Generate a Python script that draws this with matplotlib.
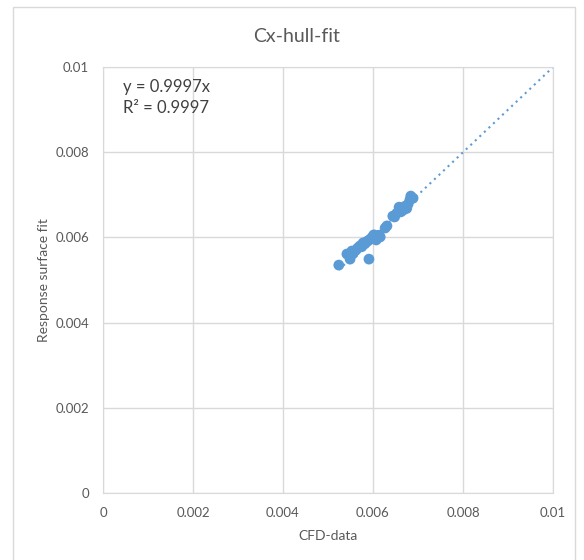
import matplotlib.pyplot as plt
import numpy as np
from matplotlib.patches import Rectangle

# ============================================================
# DATA
# ============================================================

cfd_data = [0.00524, 0.00542, 0.00549, 0.00553, 0.00556, 0.00562, 0.00566,
            0.00571, 0.00575, 0.00578, 0.00582, 0.00586, 0.00589, 0.00591,
            0.00594, 0.00598, 0.00600, 0.00602, 0.00605, 0.00607, 0.00612,
            0.00616, 0.00627, 0.00631, 0.00644, 0.00648, 0.00653, 0.00658,
            0.00662, 0.00667, 0.00671, 0.00675, 0.00678, 0.00682, 0.00684,
            0.00689]
surface_fit = [0.00535, 0.00561, 0.00549, 0.00568, 0.00562, 0.00570, 0.00575,
               0.00580, 0.00578, 0.00587, 0.00585, 0.00590, 0.00592, 0.00549,
               0.00596, 0.00599, 0.00603, 0.00606, 0.00600, 0.00594, 0.00605,
               0.00601, 0.00622, 0.00627, 0.00650, 0.00648, 0.00657, 0.00671,
               0.00660, 0.00664, 0.00673, 0.00668, 0.00678, 0.00688, 0.00697,
               0.00692]

slope = 0.9997
r_squared = 0.9997

x_ticks = [0, 0.002, 0.004, 0.006, 0.008, 0.01]
x_tick_labels = ["0", "0.002", "0.004", "0.006", "0.008", "0.01"]
y_ticks = [0, 0.002, 0.004, 0.006, 0.008, 0.01]
y_tick_labels = ["0", "0.002", "0.004", "0.006", "0.008", "0.01"]

# ============================================================
# PLOT
# ============================================================

plt.rcParams["font.family"] = ["Lato", "DejaVu Sans"]

BLUE = "#5B9BD5"
GRID = "#D9D9D9"
TEXT = "#595959"

fig = plt.figure(figsize=(5.84, 5.60), dpi=100)

# chart area border
fig.patches.append(Rectangle(
    (13 / 584, -0.01), 562 / 584, 1 - 7 / 560 + 0.01,
    transform=fig.transFigure, fill=False, edgecolor=GRID, linewidth=1
))

ax = fig.add_axes([103 / 584, 1 - 493 / 560, 450 / 584, 426 / 560])

ax.scatter(
    cfd_data,
    surface_fit,
    s=60,
    color=BLUE,
    edgecolors="none",
    zorder=3
)

x_line = np.array([min(cfd_data), 0.01])
ax.plot(
    x_line,
    slope * x_line,
    linestyle=(0, (1, 2)),
    color=BLUE,
    linewidth=1.5,
    zorder=2
)

ax.set_xlim(0, 0.01)
ax.set_ylim(0, 0.01)
ax.set_xticks(x_ticks)
ax.set_xticklabels(x_tick_labels)
ax.set_yticks(y_ticks)
ax.set_yticklabels(y_tick_labels)

ax.grid(True, color=GRID, linewidth=1)
ax.set_axisbelow(True)
for spine in ax.spines.values():
    spine.set_color(GRID)
ax.tick_params(length=0, labelsize=9.5, colors=TEXT, pad=10)

ax.set_xlabel("CFD-data", fontsize=10, color=TEXT, labelpad=8)
ax.set_ylabel("Response surface fit", fontsize=10, color=TEXT, labelpad=4)

fig.text(0.5 + 5 / 584, 1 - 36 / 560, "Cx-hull-fit", fontsize=14,
         color=TEXT, ha="center", va="center")

ax.text(0.00045, 0.00928, f"y = {slope}x\nR² = {r_squared}",
        fontsize=12, color="#404040", ha="left", va="center",
        linespacing=1.4)

plt.savefig("out.png", dpi=100)
